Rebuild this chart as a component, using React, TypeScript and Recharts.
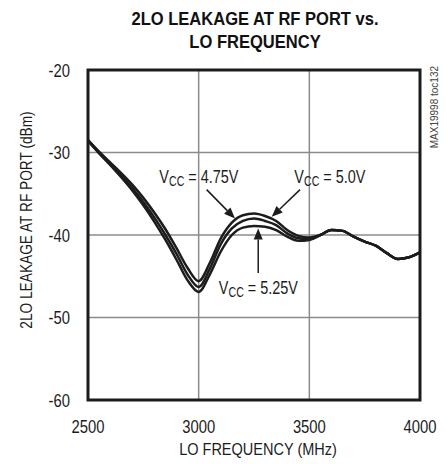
import React from "react";
import {
  LineChart,
  Line,
  XAxis,
  YAxis,
  CartesianGrid,
  ReferenceArea,
  ReferenceDot,
  ReferenceLine,
} from "recharts";

// LO frequency (MHz) and 2LO leakage (dBm) per supply voltage
const freq = [
  2500, 2550, 2600, 2650, 2700, 2750, 2800, 2850, 2900, 2950, 3000, 3050, 3100, 3150, 3200, 3250,
  3300, 3350, 3400, 3450, 3500, 3550, 3600, 3650, 3700, 3750, 3800, 3850, 3900, 3950, 4000,
];
const vcc475 = [
  -28.5, -29.9, -31.2, -32.5, -33.9, -35.5, -37.3, -39.3, -41.6, -44.0, -45.6, -43.4, -40.4, -38.5,
  -37.6, -37.4, -37.7, -38.3, -39.4, -40.1, -40.3, -40.0, -39.4, -39.5, -40.2, -40.8, -41.3, -42.2,
  -42.9, -42.7, -42.1,
];
const vcc500 = [
  -28.5, -30.0, -31.4, -32.8, -34.3, -36.0, -37.9, -40.0, -42.3, -44.8, -46.3, -44.1, -41.1, -39.2,
  -38.3, -38.0, -38.3, -38.8, -39.8, -40.4, -40.5, -40.0, -39.4, -39.5, -40.2, -40.8, -41.3, -42.2,
  -42.9, -42.7, -42.1,
];
const vcc525 = [
  -28.6, -30.1, -31.5, -33.0, -34.6, -36.4, -38.4, -40.6, -43.0, -45.5, -46.9, -44.8, -42.0, -40.0,
  -39.1, -38.9, -39.0, -39.4, -40.2, -40.7, -40.6, -40.0, -39.4, -39.5, -40.2, -40.8, -41.3, -42.2,
  -42.9, -42.7, -42.1,
];
const xTicks = [2500, 3000, 3500, 4000];
const yTicks = [-60, -50, -40, -30, -20];

const data = freq.map((f, i) => ({ f, a: vcc475[i], b: vcc500[i], c: vcc525[i] }));

// narrow faces aren't installed, so squeeze the regular one
const FONT = "'Liberation Sans', Arial, sans-serif";
const INK = "#1c1c1c";

const XTick = (props: any) => (
  <g transform={`translate(${props.x},${props.y})`}>
    <text transform="scale(0.78,1)" textAnchor="middle" dy="0.71em" fontSize={19} fill={INK} fontFamily={FONT}>
      {props.payload.value}
    </text>
  </g>
);

const YTick = (props: any) => (
  <g transform={`translate(${props.x},${props.y})`}>
    <text transform="scale(0.78,1)" textAnchor="end" dy="0.355em" fontSize={19} fill={INK} fontFamily={FONT}>
      {props.payload.value}
    </text>
  </g>
);

const vccLabel = (volts: string) => (props: any) => (
  <g transform={`translate(${props.cx},${props.cy})`}>
    <text transform="scale(0.76,1)" textAnchor="middle" fontFamily={FONT} fontSize={19} fill={INK}>
      V
      <tspan fontSize={14} dy={3}>
        CC
      </tspan>
      <tspan dy={-3}>{` = ${volts}`}</tspan>
    </text>
  </g>
);

const arrow = (props: any) => {
  const { x1, y1, x2, y2 } = props;
  const ang = Math.atan2(y2 - y1, x2 - x1);
  const len = 11;
  const w = 4.5;
  const bx = x2 - len * Math.cos(ang);
  const by = y2 - len * Math.sin(ang);
  const px = -Math.sin(ang) * w;
  const py = Math.cos(ang) * w;
  return (
    <g>
      <line x1={x1} y1={y1} x2={bx} y2={by} stroke={INK} strokeWidth={1.5} />
      <polygon points={`${x2},${y2} ${bx + px},${by + py} ${bx - px},${by - py}`} fill={INK} />
    </g>
  );
};

export default function App() {
  return (
    <div style={{ position: "absolute", left: 0, top: 0, width: 447, height: 464, background: "#fff" }}>
      <div
        style={{
          position: "absolute",
          left: 0,
          top: 7,
          width: 510,
          textAlign: "center",
          fontFamily: FONT,
          fontWeight: "bold",
          fontSize: 19,
          lineHeight: "23px",
          color: "#111",
          transform: "scaleX(0.87)",
          transformOrigin: "255px 0",
        }}
      >
        2LO LEAKAGE AT RF PORT vs.
        <br />
        LO FREQUENCY
      </div>
      <div
        style={{
          position: "absolute",
          left: 429,
          top: 66,
          writingMode: "vertical-rl",
          transform: "rotate(180deg)",
          fontFamily: FONT,
          fontSize: 10,
          color: "#444",
        }}
      >
        MAX19998 toc132
      </div>
      <LineChart width={447} height={464} data={data} margin={{ top: 70, right: 27, bottom: 0, left: 0 }}>
        <CartesianGrid stroke="#8c8c8c" strokeWidth={1.5} />
        <XAxis
          dataKey="f"
          type="number"
          domain={[2500, 4000]}
          ticks={xTicks}
          height={64}
          tickLine={false}
          axisLine={false}
          tickMargin={13}
          tick={<XTick />}
          label={{
            content: () => (
              <text
                transform="translate(258, 455) scale(0.88,1)"
                textAnchor="middle"
                fontSize={16.5}
                fill={INK}
                fontFamily={FONT}
              >
                LO FREQUENCY (MHz)
              </text>
            ),
          }}
        />
        <YAxis
          type="number"
          domain={[-60, -20]}
          ticks={yTicks}
          width={88}
          tickLine={false}
          axisLine={false}
          tickMargin={12}
          tick={<YTick />}
          label={{
            content: () => (
              <text
                transform="translate(32, 220) rotate(-90) scale(0.83,1)"
                textAnchor="middle"
                fontSize={16.5}
                fill={INK}
                fontFamily={FONT}
              >
                2LO LEAKAGE AT RF PORT (dBm)
              </text>
            ),
          }}
        />
        <Line type="monotone" dataKey="a" stroke={INK} strokeWidth={2.5} dot={false} isAnimationActive={false} />
        <Line type="monotone" dataKey="b" stroke={INK} strokeWidth={2.5} dot={false} isAnimationActive={false} />
        <Line type="monotone" dataKey="c" stroke={INK} strokeWidth={2.5} dot={false} isAnimationActive={false} />
        <ReferenceArea x1={2500} x2={4000} y1={-60} y2={-20} fill="none" stroke={INK} strokeWidth={3} />
        <ReferenceLine segment={[{ x: 3036, y: -34.5 }, { x: 3164, y: -38.0 }]} shape={arrow} />
        <ReferenceLine segment={[{ x: 3458, y: -34.5 }, { x: 3330, y: -37.8 }]} shape={arrow} />
        <ReferenceLine segment={[{ x: 3269, y: -44.6 }, { x: 3269, y: -39.2 }]} shape={arrow} />
        <ReferenceDot x={3001} y={-33.7} r={0} shape={vccLabel("4.75V")} />
        <ReferenceDot x={3593} y={-33.7} r={0} shape={vccLabel("5.0V")} />
        <ReferenceDot x={3270} y={-47.1} r={0} shape={vccLabel("5.25V")} />
      </LineChart>
    </div>
  );
}
